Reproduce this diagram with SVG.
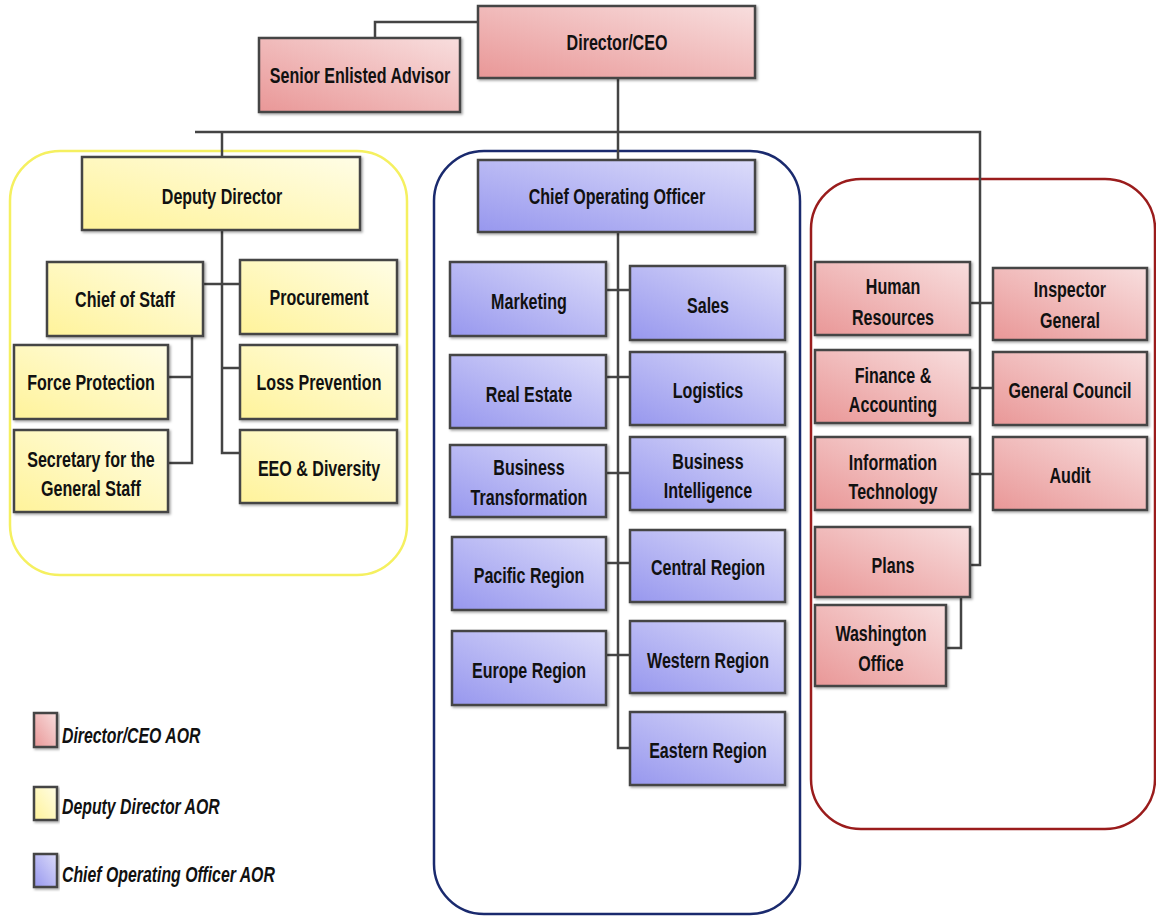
<svg xmlns="http://www.w3.org/2000/svg" width="1156" height="918" viewBox="0 0 1156 918">
<defs>
<linearGradient id="gr" x1="0" y1="1" x2="1" y2="0"><stop offset="0" stop-color="#e99797"/><stop offset="1" stop-color="#f8dede"/></linearGradient>
<linearGradient id="gy" x1="0" y1="1" x2="1" y2="0"><stop offset="0" stop-color="#fff39a"/><stop offset="1" stop-color="#fffde6"/></linearGradient>
<linearGradient id="gb" x1="0" y1="1" x2="1" y2="0"><stop offset="0" stop-color="#9797ee"/><stop offset="1" stop-color="#dcdcfa"/></linearGradient>
<filter id="sh" x="-5%" y="-5%" width="115%" height="120%"><feDropShadow dx="1.5" dy="1.5" stdDeviation="1" flood-color="#000" flood-opacity="0.35"/></filter>
</defs>
<style>
.n rect{stroke:#444;stroke-width:2.5;filter:url(#sh)}
.r rect{fill:url(#gr)}
.y rect{fill:url(#gy)}
.b rect{fill:url(#gb)}
text{font-family:"Liberation Sans",Arial,sans-serif;font-weight:bold;font-size:22px;fill:#111;text-anchor:middle}
.lg{font-style:italic;text-anchor:start;font-size:22px}
.c{fill:none;stroke:#444;stroke-width:2.5}
.cont{fill:none;stroke-width:2.5}
</style>
<rect width="1156" height="918" fill="#fff"/>
<g id="containers">
<rect class="cont" x="10" y="151" width="397" height="424" rx="50" stroke="#f5f060"/>
<rect class="cont" x="434" y="151" width="366" height="763" rx="50" stroke="#1a2a6e"/>
<rect class="cont" x="811" y="179" width="344" height="650" rx="50" stroke="#9a1c1c"/>
</g>
<g id="connectors">
<path class="c" d="M478 22 H375 V38"/>
<path class="c" d="M618 78 V160"/>
<path class="c" d="M195 132 H980 V565 H970"/>
<path class="c" d="M222 132 V157"/>
<path class="c" d="M222 230 V453 H240 M203 284 H240 M222 368 H240"/>
<path class="c" d="M192 336 V463 H168 M168 377 H192"/>
<path class="c" d="M618 232 V748 H630 M606 290 H630 M598 377 H630 M606 473 H630 M606 563 H630 M606 655 H630"/>
<path class="c" d="M970 303 H993 M970 388 H993 M970 474 H993"/>
<path class="c" d="M961 597 V648 H946"/>
</g>
<g id="n-ceo" class="n r"><rect x="478" y="6" width="277" height="72"/><text transform="translate(617 50) scale(.73 1)">Director/CEO</text></g>
<g id="n-sea" class="n r"><rect x="259" y="38" width="201" height="74"/><text transform="translate(360 83) scale(.73 1)">Senior Enlisted Advisor</text></g>
<g id="n-dd" class="n y"><rect x="82" y="157" width="278" height="73"/><text transform="translate(222 204) scale(.73 1)">Deputy Director</text></g>
<g id="n-cos" class="n y"><rect x="47" y="262" width="156" height="74"/><text transform="translate(125 307) scale(.73 1)">Chief of Staff</text></g>
<g id="n-proc" class="n y"><rect x="240" y="260" width="157" height="74"/><text transform="translate(319 305) scale(.73 1)">Procurement</text></g>
<g id="n-fp" class="n y"><rect x="14" y="345" width="154" height="74"/><text transform="translate(91 390) scale(.73 1)">Force Protection</text></g>
<g id="n-lp" class="n y"><rect x="240" y="345" width="157" height="74"/><text transform="translate(319 390) scale(.73 1)">Loss Prevention</text></g>
<g id="n-sec" class="n y"><rect x="14" y="430" width="154" height="82"/><text transform="translate(91 467) scale(.73 1)">Secretary for the</text><text transform="translate(91 496) scale(.73 1)">General Staff</text></g>
<g id="n-eeo" class="n y"><rect x="240" y="430" width="157" height="73"/><text transform="translate(319 476) scale(.73 1)">EEO &amp; Diversity</text></g>
<g id="n-coo" class="n b"><rect x="478" y="160" width="277" height="72"/><text transform="translate(617 204) scale(.73 1)">Chief Operating Officer</text></g>
<g id="n-mkt" class="n b"><rect x="450" y="262" width="156" height="74"/><text transform="translate(529 309) scale(.73 1)">Marketing</text></g>
<g id="n-sales" class="n b"><rect x="630" y="266" width="155" height="74"/><text transform="translate(708 313) scale(.73 1)">Sales</text></g>
<g id="n-re" class="n b"><rect x="450" y="355" width="156" height="73"/><text transform="translate(529 402) scale(.73 1)">Real Estate</text></g>
<g id="n-log" class="n b"><rect x="630" y="352" width="155" height="73"/><text transform="translate(708 398) scale(.73 1)">Logistics</text></g>
<g id="n-bt" class="n b"><rect x="450" y="445" width="156" height="72"/><text transform="translate(529 475) scale(.73 1)">Business</text><text transform="translate(529 505) scale(.73 1)">Transformation</text></g>
<g id="n-bi" class="n b"><rect x="630" y="437" width="155" height="73"/><text transform="translate(708 469) scale(.73 1)">Business</text><text transform="translate(708 498) scale(.73 1)">Intelligence</text></g>
<g id="n-pac" class="n b"><rect x="452" y="537" width="154" height="73"/><text transform="translate(529 583) scale(.73 1)">Pacific Region</text></g>
<g id="n-cen" class="n b"><rect x="630" y="530" width="155" height="72"/><text transform="translate(708 575) scale(.73 1)">Central Region</text></g>
<g id="n-eur" class="n b"><rect x="452" y="631" width="154" height="74"/><text transform="translate(529 678) scale(.73 1)">Europe Region</text></g>
<g id="n-wes" class="n b"><rect x="630" y="621" width="155" height="72"/><text transform="translate(708 668) scale(.73 1)">Western Region</text></g>
<g id="n-eas" class="n b"><rect x="630" y="712" width="155" height="73"/><text transform="translate(708 758) scale(.73 1)">Eastern Region</text></g>
<g id="n-hr" class="n r"><rect x="815" y="262" width="155" height="73"/><text transform="translate(893 294) scale(.73 1)">Human</text><text transform="translate(893 325) scale(.73 1)">Resources</text></g>
<g id="n-ig" class="n r"><rect x="993" y="268" width="154" height="72"/><text transform="translate(1070 297) scale(.73 1)">Inspector</text><text transform="translate(1070 328) scale(.73 1)">General</text></g>
<g id="n-fa" class="n r"><rect x="815" y="350" width="155" height="73"/><text transform="translate(893 383) scale(.73 1)">Finance &amp;</text><text transform="translate(893 412) scale(.73 1)">Accounting</text></g>
<g id="n-gc" class="n r"><rect x="993" y="352" width="154" height="73"/><text transform="translate(1070 398) scale(.73 1)">General Council</text></g>
<g id="n-it" class="n r"><rect x="815" y="437" width="155" height="73"/><text transform="translate(893 470) scale(.73 1)">Information</text><text transform="translate(893 499) scale(.73 1)">Technology</text></g>
<g id="n-aud" class="n r"><rect x="993" y="437" width="154" height="73"/><text transform="translate(1070 483) scale(.73 1)">Audit</text></g>
<g id="n-plans" class="n r"><rect x="815" y="527" width="155" height="70"/><text transform="translate(893 573) scale(.73 1)">Plans</text></g>
<g id="n-wo" class="n r"><rect x="815" y="605" width="131" height="81"/><text transform="translate(881 641) scale(.73 1)">Washington</text><text transform="translate(881 671) scale(.73 1)">Office</text></g>
<g id="legend">
<g class="n r"><rect x="34" y="713" width="23" height="34"/></g><text class="lg" transform="translate(62 743) scale(.72 1)">Director/CEO AOR</text>
<g class="n y"><rect x="34" y="787" width="23" height="33"/></g><text class="lg" transform="translate(62 814) scale(.72 1)">Deputy Director AOR</text>
<g class="n b"><rect x="34" y="854" width="23" height="33"/></g><text class="lg" transform="translate(62 882) scale(.72 1)">Chief Operating Officer AOR</text>
</g>
</svg>
